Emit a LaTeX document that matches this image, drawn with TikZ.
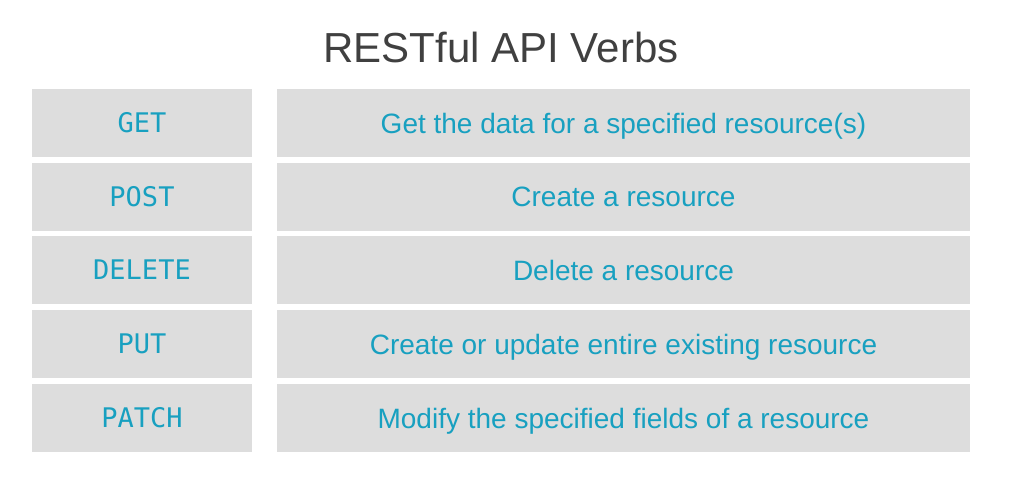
\documentclass[tikz,border=0pt]{standalone}
\usepackage{fontspec}
\setmainfont{Liberation Sans}
\newfontfamily\verbfont{DejaVu Sans Mono}
\definecolor{cellgray}{RGB}{221,221,221}
\definecolor{textteal}{RGB}{24,160,192}
\definecolor{titlegray}{RGB}{64,64,64}
\begin{document}
\begin{tikzpicture}[x=1pt,y=-1pt,
  cell/.style={fill=cellgray, draw=none, inner sep=0pt, minimum height=68pt, text=textteal, text depth=0pt},
  verbcell/.style={cell, minimum width=220pt, text height=19.7pt, font=\verbfont\fontsize{27}{30}\selectfont},
  desccell/.style={cell, minimum width=693pt, text height=20pt, font=\fontsize{28}{32}\selectfont}]
\fill[white] (0,0) rectangle (1022,483);
\node[font=\fontsize{42}{48}\selectfont, text=titlegray, anchor=base, inner sep=0pt] (title) at (501,62) {RESTful API Verbs};
\node[verbcell] (v1) at (142,123) {GET};
\node[verbcell] (v2) at (142,196.5) {POST};
\node[verbcell] (v3) at (142,270) {DELETE};
\node[verbcell] (v4) at (142,344) {PUT};
\node[verbcell] (v5) at (142,418) {PATCH};
\node[desccell] (d1) at (623.5,123) {Get the data for a specified resource(s)};
\node[desccell] (d2) at (623.5,196.5) {Create a resource};
\node[desccell] (d3) at (623.5,270) {Delete a resource};
\node[desccell] (d4) at (623.5,344) {Create or update entire existing resource};
\node[desccell] (d5) at (623.5,418) {Modify the specified fields of a resource};
\end{tikzpicture}
\end{document}
